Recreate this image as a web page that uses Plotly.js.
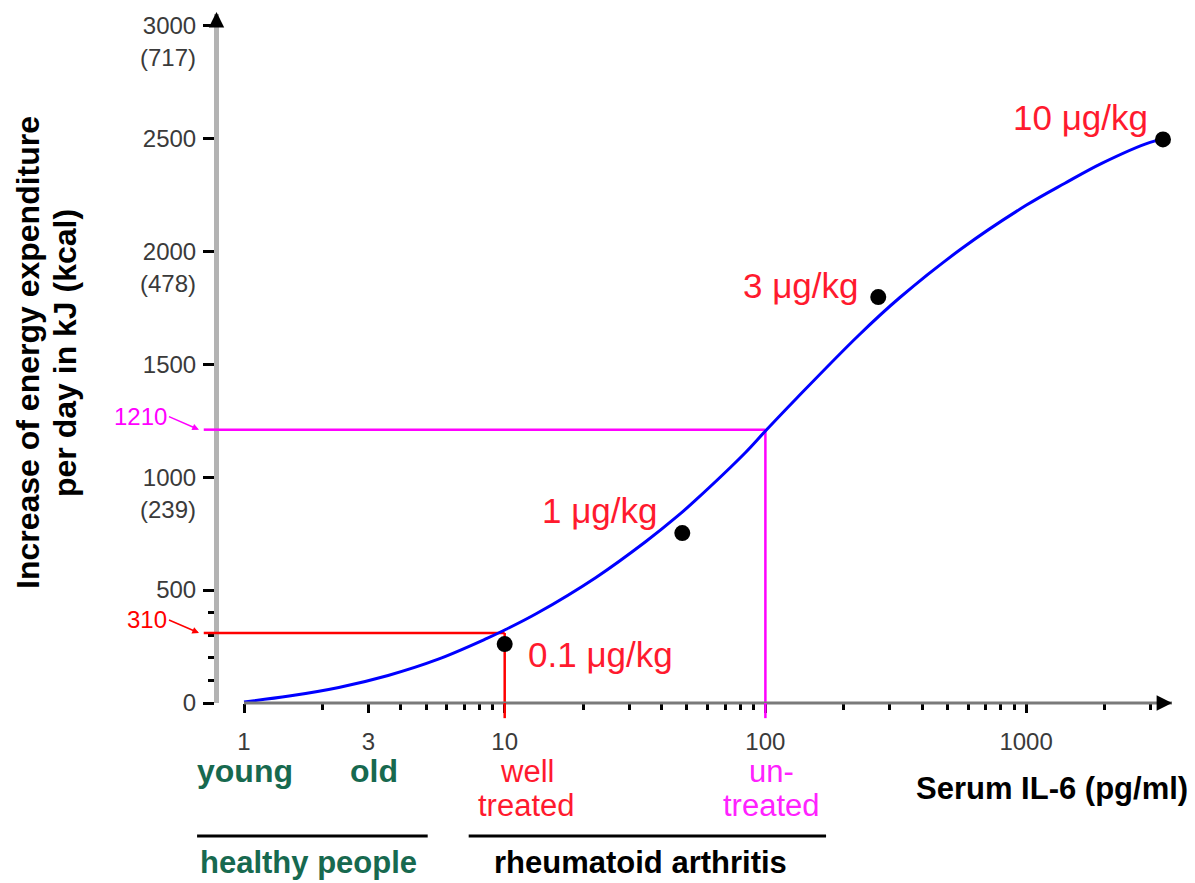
<!DOCTYPE html>
<html><head><meta charset="utf-8">
<script src="https://cdn.plot.ly/plotly-3.0.1.min.js"></script>
<style>html,body{margin:0;padding:0;background:#fff;}#chart{width:1195px;height:883px;}</style>
</head><body><div id="chart"></div>
<script>
// Fitted curve: serum IL-6 (pg/ml) vs increase of energy expenditure (kJ per day)
const curveIL6 = [1, 1.49, 2.31, 3.57, 5.53, 8.55, 10, 13.25, 22.4, 34.8, 46.1, 54.1, 83.9, 100, 131.5, 227.6, 328, 568, 1000, 1409, 1950, 2990, 3350];
const curveKJ  = [5, 31, 69, 122, 193, 286, 323, 396, 556, 715, 828, 899, 1109, 1204, 1348, 1627, 1795, 2013, 2203, 2301, 2389, 2482, 2495];

// Measured doses
const doseIL6   = [10, 48, 271, 3350];
const doseKJ    = [261, 752, 1797, 2495];
const doseLabel = ['0.1 μg/kg', '1 μg/kg', '3 μg/kg', '10 μg/kg'];

// Reference read-offs (well treated / untreated)
const refIL6   = [10, 100];
const refKJ    = [310, 1210];
const refColor = ['#ff0000', '#ff00ff'];

// Axis ticks
const yTickVals  = [0, 500, 1000, 1500, 2000, 2500, 3000];
const yTickText  = ['0', '500', '1000', '1500', '2000', '2500', '3000'];
const yKcalVals  = [1000, 2000, 3000];
const yKcalText  = ['(239)', '(478)', '(717)'];
const yMinorVals = [100, 200, 300, 400];
const xTickVals  = [1, 3, 10, 100, 1000];
const xTickText  = ['1', '3', '10', '100', '1000'];
const xMinorVals = [2, 4, 5, 6, 7, 8, 9, 20, 30, 40, 50, 60, 70, 80, 90, 200, 300, 400, 500, 600, 700, 800, 900, 2000, 3000];

// Groups under the x axis
const groupLines = [['young'], ['old'], ['well', 'treated'], ['un-', 'treated']];
const groupIL6   = [1, 3, 10, 100];
const groupColor = ['#17694f', '#17694f', '#ff1a2e', '#ff22ff'];
const groupBold  = [true, true, false, false];

const yTitleLines = ['Increase of energy expenditure', 'per day in kJ (kcal)'];

const FONT = 'Arial, "Liberation Sans", sans-serif';
const xRange = [-0.0959, 3.5597];
const yRange = [0, 3050];

const traces = [];
refIL6.forEach((v, i) => {
  traces.push({type: 'scatter', mode: 'lines', x: [Math.pow(10, xRange[0]), v], y: [refKJ[i], refKJ[i]],
    line: {color: refColor[i], width: 2.5}, hoverinfo: 'skip', showlegend: false});
  traces.push({type: 'scatter', mode: 'lines', x: [v, v], y: [refKJ[i], yRange[0]],
    line: {color: refColor[i], width: 2.5}, hoverinfo: 'skip', showlegend: false});
});
traces.push({type: 'scatter', mode: 'lines', x: curveIL6, y: curveKJ,
  line: {color: '#0000ff', width: 3, shape: 'spline', smoothing: 1}, showlegend: false});
traces.push({type: 'scatter', mode: 'markers', x: doseIL6, y: doseKJ, cliponaxis: false,
  marker: {color: '#000', size: 16}, showlegend: false});

const shapes = [];
// x axis line starts at IL-6 = 1
shapes.push({type: 'line', xref: 'x', yref: 'paper', x0: 1, x1: Math.pow(10, xRange[1]), y0: 0, y1: 0,
  line: {color: '#7a7a7a', width: 3}, layer: 'above'});
refIL6.forEach((v, i) => {
  shapes.push({type: 'line', xref: 'x', yref: 'paper', x0: v, x1: v, y0: 0, y1: -0.022,
    line: {color: refColor[i], width: 2.5}, layer: 'above'});
  shapes.push({type: 'line', xref: 'paper', yref: 'y', x0: -0.016, x1: 0, y0: refKJ[i], y1: refKJ[i],
    line: {color: refColor[i], width: 2.5}, layer: 'above'});
});
// group bars
shapes.push({type: 'line', xref: 'paper', yref: 'paper', x0: -0.023, x1: 0.219, y0: -0.193, y1: -0.193, line: {color: '#000', width: 3}});
shapes.push({type: 'line', xref: 'paper', yref: 'paper', x0: 0.262, x1: 0.637, y0: -0.193, y1: -0.193, line: {color: '#000', width: 3}});

const ann = [];
// y axis title (two lines)
const yTitleX = [-0.2004, -0.1616];
yTitleLines.forEach((t, i) => ann.push({xref: 'paper', yref: 'paper', x: yTitleX[i], y: 0.508, xanchor: 'center', yanchor: 'middle',
  textangle: -90, showarrow: false, text: '<b>' + t + '</b>', font: {family: FONT, size: 32, color: '#000'}}));
// kcal sub labels
yKcalVals.forEach((v, i) => ann.push({xref: 'paper', yref: 'y', x: 0, y: v, xanchor: 'right', yanchor: 'middle',
  xshift: -21, yshift: -32, showarrow: false, text: yKcalText[i], font: {family: FONT, size: 24, color: '#3a3a3a'}}));
// arrows to reference values
refKJ.forEach((v, i) => ann.push({xref: 'paper', yref: 'y', x: 0, y: v, xshift: -20, ax: -30, ay: -13,
  showarrow: true, arrowhead: 2, arrowsize: 0.9, arrowwidth: 1.5, arrowcolor: refColor[i],
  xanchor: 'right', yanchor: 'middle', text: String(v), font: {family: FONT, size: 24, color: refColor[i]}}));
// dose labels
const doseOff = [[21, -10, 'left'], [-22, 23, 'right'], [-17, 12, 'right'], [-13, 22, 'right']];
doseIL6.forEach((v, i) => ann.push({xref: 'x', yref: 'y', x: Math.log10(v), y: doseKJ[i], xshift: doseOff[i][0], yshift: doseOff[i][1],
  xanchor: doseOff[i][2], yanchor: 'middle', showarrow: false, text: doseLabel[i], font: {family: FONT, size: 35, color: '#ff1a2e'}}));
// group labels
const groupShift = [1, 6, 22, 6];
groupLines.forEach((lines, i) => lines.forEach((t, j) => ann.push({xref: 'x', yref: 'paper', x: Math.log10(groupIL6[i]), y: 0,
  xshift: groupShift[i], yshift: -68 - 34 * j, xanchor: 'center', yanchor: 'middle', showarrow: false,
  text: groupBold[i] ? '<b>' + t + '</b>' : t, font: {family: FONT, size: groupBold[i] ? 32 : 31, color: groupColor[i]}})));
ann.push({xref: 'paper', yref: 'paper', x: 1, y: 0, xshift: 18, yshift: -85, xanchor: 'right', yanchor: 'middle', showarrow: false,
  text: '<b>Serum IL-6 (pg/ml)</b>', font: {family: FONT, size: 31, color: '#000'}});
ann.push({xref: 'paper', yref: 'paper', x: 0.0934, y: 0, yshift: -159, xanchor: 'center', yanchor: 'middle', showarrow: false,
  text: '<b>healthy people</b>', font: {family: FONT, size: 31, color: '#17694f'}});
ann.push({xref: 'paper', yref: 'paper', x: 0.4428, y: 0, yshift: -159, xanchor: 'center', yanchor: 'middle', showarrow: false,
  text: '<b>rheumatoid arthritis</b>', font: {family: FONT, size: 31, color: '#000'}});
// axis arrowheads
ann.push({xref: 'paper', yref: 'paper', x: 0, y: 1, xshift: -2.5, yshift: 2, ax: 0, ay: 14, showarrow: true, text: '',
  arrowhead: 2, arrowsize: 1.4, arrowwidth: 2.2, arrowcolor: '#000'});
ann.push({xref: 'paper', yref: 'paper', x: 1, y: 0, ax: -14, ay: 0, showarrow: true, text: '',
  arrowhead: 2, arrowsize: 1.4, arrowwidth: 2.2, arrowcolor: '#000'});

const layout = {
  width: 1195, height: 883,
  margin: {l: 219, r: 23, t: 14, b: 180},
  paper_bgcolor: '#fff', plot_bgcolor: '#fff',
  showlegend: false,
  xaxis: {type: 'log', range: xRange, showline: false, showgrid: false, zeroline: false,
    tickmode: 'array', tickvals: xTickVals, ticktext: xTickText,
    ticks: 'outside', ticklen: 9, tickwidth: 3, tickcolor: '#000', ticklabelstandoff: 8,
    minor: {tickmode: 'array', tickvals: xMinorVals, ticks: 'outside', ticklen: 6, tickwidth: 3, tickcolor: '#000', showgrid: false},
    tickfont: {family: FONT, size: 24, color: '#3a3a3a'}},
  yaxis: {range: yRange, showline: true, linecolor: '#b3b3b3', linewidth: 5, showgrid: false, zeroline: false,
    tickmode: 'array', tickvals: yTickVals, ticktext: yTickText,
    ticks: 'outside', ticklen: 11, tickwidth: 3, tickcolor: '#000', ticklabelstandoff: 2,
    minor: {tickmode: 'array', tickvals: yMinorVals, ticks: 'outside', ticklen: 6, tickwidth: 3, tickcolor: '#000', showgrid: false},
    tickfont: {family: FONT, size: 24, color: '#3a3a3a'}},
  shapes: shapes,
  annotations: ann
};
Plotly.newPlot('chart', traces, layout, {staticPlot: true});
</script></body></html>
